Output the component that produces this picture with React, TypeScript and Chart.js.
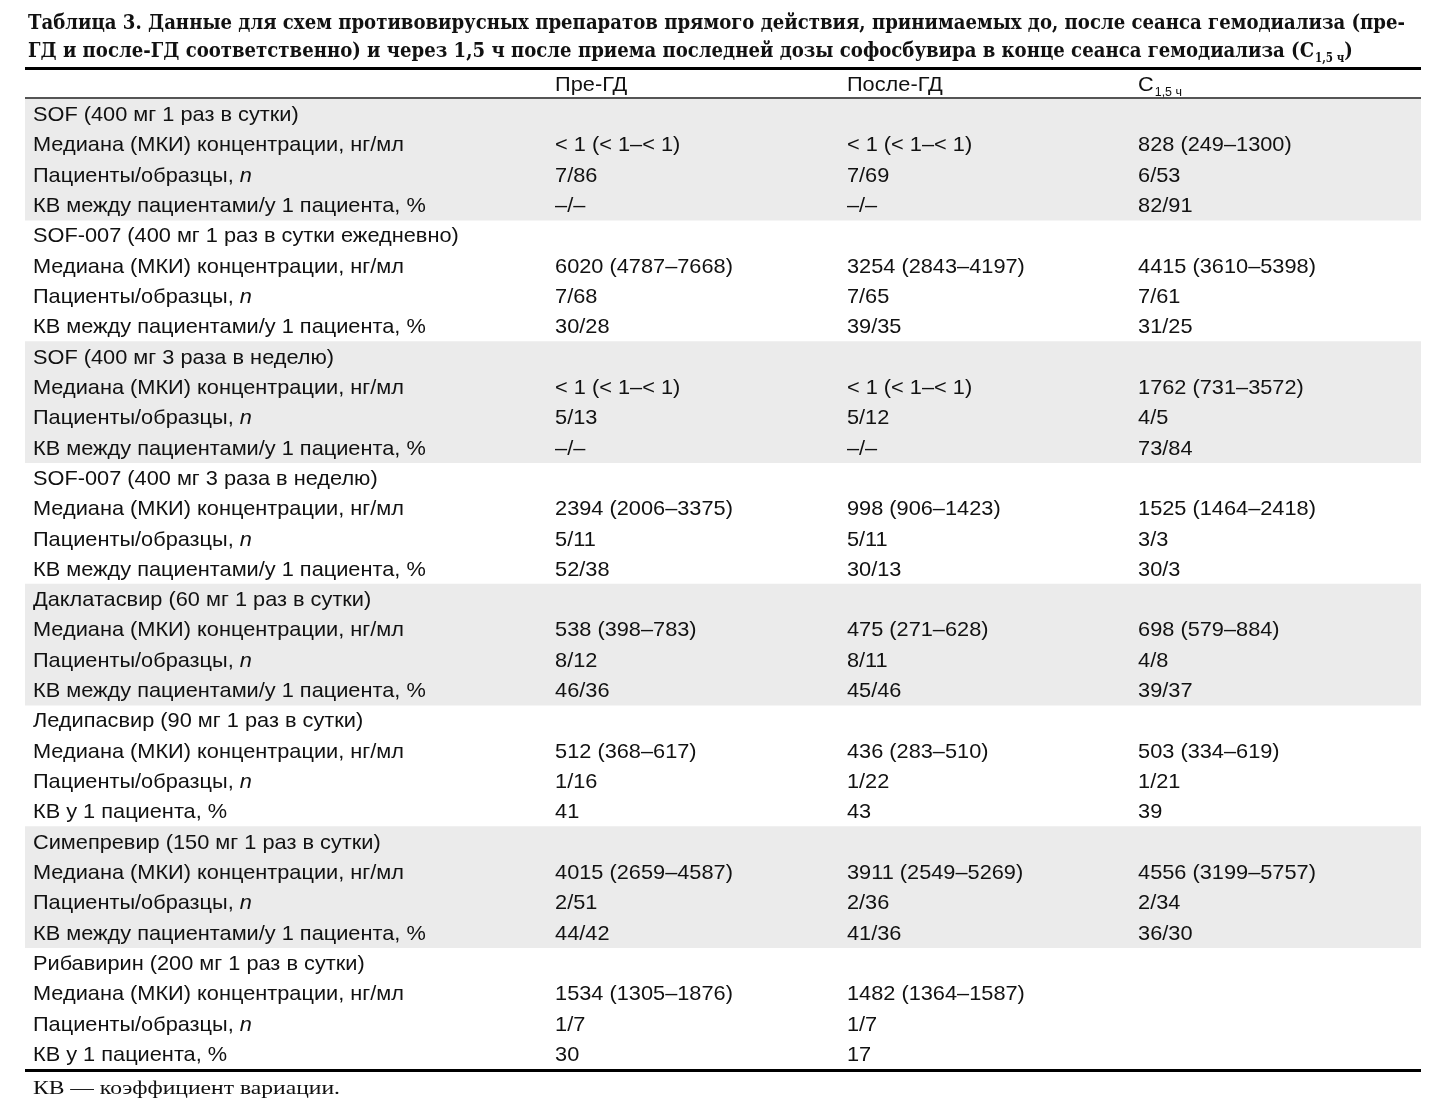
import React, { useEffect, useRef } from "react";
import { Chart, registerables } from "chart.js";

Chart.register(...registerables);

// ---------- text content ----------
const TITLE_LINE_1 =
  "Таблица 3. Данные для схем противовирусных препаратов прямого действия, принимаемых до, после сеанса гемодиализа (пре-";
const TITLE_LINE_2 =
  "ГД и после-ГД соответственно) и через 1,5 ч после приема последней дозы софосбувира в конце сеанса гемодиализа (C";
const TITLE_LINE_2_SUB = "1,5 ч";
const TITLE_LINE_2_END = ")";

const COLUMN_HEADERS = ["Пре-ГД", "После-ГД", "C"];
const COLUMN_HEADER_SUB = ["", "", "1,5 ч"];

const FOOTNOTE = "КВ — коэффициент вариации.";

// ---------- data ----------
const GROUPS = [
  "SOF (400 мг 1 раз в сутки)",
  "SOF-007 (400 мг 1 раз в сутки ежедневно)",
  "SOF (400 мг 3 раза в неделю)",
  "SOF-007 (400 мг 3 раза в неделю)",
  "Даклатасвир (60 мг 1 раз в сутки)",
  "Ледипасвир (90 мг 1 раз в сутки)",
  "Симепревир (150 мг 1 раз в сутки)",
  "Рибавирин (200 мг 1 раз в сутки)",
];

const MEDIAN_LABEL = "Медиана (МКИ) концентрации, нг/мл";
const N_LABEL = "Пациенты/образцы, ";
const N_LABEL_ITALIC = "n";
const CV_LABELS = [
  "КВ между пациентами/у 1 пациента, %",
  "КВ между пациентами/у 1 пациента, %",
  "КВ между пациентами/у 1 пациента, %",
  "КВ между пациентами/у 1 пациента, %",
  "КВ между пациентами/у 1 пациента, %",
  "КВ у 1 пациента, %",
  "КВ между пациентами/у 1 пациента, %",
  "КВ у 1 пациента, %",
];

const MEDIAN_PRE = ["< 1 (< 1–< 1)", "6020 (4787–7668)", "< 1 (< 1–< 1)", "2394 (2006–3375)", "538 (398–783)", "512 (368–617)", "4015 (2659–4587)", "1534 (1305–1876)"];
const MEDIAN_POST = ["< 1 (< 1–< 1)", "3254 (2843–4197)", "< 1 (< 1–< 1)", "998 (906–1423)", "475 (271–628)", "436 (283–510)", "3911 (2549–5269)", "1482 (1364–1587)"];
const MEDIAN_C15 = ["828 (249–1300)", "4415 (3610–5398)", "1762 (731–3572)", "1525 (1464–2418)", "698 (579–884)", "503 (334–619)", "4556 (3199–5757)", ""];

const N_PRE = ["7/86", "7/68", "5/13", "5/11", "8/12", "1/16", "2/51", "1/7"];
const N_POST = ["7/69", "7/65", "5/12", "5/11", "8/11", "1/22", "2/36", "1/7"];
const N_C15 = ["6/53", "7/61", "4/5", "3/3", "4/8", "1/21", "2/34", ""];

const CV_PRE = ["–/–", "30/28", "–/–", "52/38", "46/36", "41", "44/42", "30"];
const CV_POST = ["–/–", "39/35", "–/–", "30/13", "45/46", "43", "41/36", "17"];
const CV_C15 = ["82/91", "31/25", "73/84", "30/3", "39/37", "39", "36/30", ""];

// ---------- build table rows ----------
type Row = { label: string; italic?: string; cells: string[]; group: number };
const ROWS: Row[] = [];
GROUPS.forEach((g, gi) => {
  ROWS.push({ label: g, cells: ["", "", ""], group: gi });
  ROWS.push({ label: MEDIAN_LABEL, cells: [MEDIAN_PRE[gi], MEDIAN_POST[gi], MEDIAN_C15[gi]], group: gi });
  ROWS.push({ label: N_LABEL, italic: N_LABEL_ITALIC, cells: [N_PRE[gi], N_POST[gi], N_C15[gi]], group: gi });
  ROWS.push({ label: CV_LABELS[gi], cells: [CV_PRE[gi], CV_POST[gi], CV_C15[gi]], group: gi });
});

// ---------- layout / style ----------
const W = 1438;
const H = 1105;
const X_MIN = 0;
const X_MAX = 1;
const COL_X = [0.0057, 0.3797, 0.5888, 0.7973]; // label, pre, post, c1.5 anchors on x scale
const SHADE = "#ebebeb";
const TEXT = "#111111";
const BODY_SIZE = 21;
const BODY_FONT = `${BODY_SIZE}px "Liberation Sans", Arial, sans-serif`;
const BODY_ITALIC = `italic ${BODY_SIZE}px "Liberation Sans", Arial, sans-serif`;
const SUB_FONT = `12px "Liberation Sans", Arial, sans-serif`;
const TITLE_FONT = `bold 21px "DejaVu Serif Condensed", "DejaVu Serif", serif`;
const TITLE_SUB_FONT = `bold 12px "DejaVu Serif Condensed", "DejaVu Serif", serif`;
const FOOT_FONT = `19px "Liberation Serif", serif`;

function drawScaled(ctx: CanvasRenderingContext2D, text: string, x: number, y: number, sx: number): number {
  ctx.save();
  ctx.translate(x, y);
  ctx.scale(sx, 1);
  ctx.fillText(text, 0, 0);
  ctx.restore();
  return ctx.measureText(text).width * sx;
}

const tablePlugin = {
  id: "tableText",
  afterDatasetsDraw(chart: any) {
    const { ctx, chartArea, scales } = chart;
    const xs = scales.x;
    const ys = scales.y;
    const left = chartArea.left;
    const width = chartArea.right - chartArea.left;
    ctx.save();

    // rules
    ctx.fillStyle = "#000";
    ctx.fillRect(left, chartArea.top - 32, width, 3);
    ctx.fillStyle = "#555";
    ctx.fillRect(left, chartArea.top - 2, width, 2);
    ctx.fillStyle = "#000";
    ctx.fillRect(left, chartArea.bottom, width, 3);

    ctx.fillStyle = TEXT;
    ctx.textBaseline = "alphabetic";
    ctx.textAlign = "left";

    // title
    try {
      (ctx as any).fontStretch = "condensed";
    } catch (e) {}
    ctx.font = TITLE_FONT;
    const titleStart = 28;
    const titleSx = 1377 / ctx.measureText(TITLE_LINE_1).width;
    drawScaled(ctx, TITLE_LINE_1, titleStart, 29, titleSx);
    let tx = titleStart + drawScaled(ctx, TITLE_LINE_2, titleStart, 57, titleSx);
    ctx.font = TITLE_SUB_FONT;
    tx += drawScaled(ctx, TITLE_LINE_2_SUB, tx + 1, 62, titleSx) + 1;
    ctx.font = TITLE_FONT;
    drawScaled(ctx, TITLE_LINE_2_END, tx, 57, titleSx);
    try {
      (ctx as any).fontStretch = "normal";
    } catch (e) {}

    // body scale factor
    ctx.font = BODY_FONT;
    const bodySx = 371 / ctx.measureText(MEDIAN_LABEL).width;

    // header
    const headY = chartArea.top - 8;
    COLUMN_HEADERS.forEach((h, i) => {
      ctx.font = BODY_FONT;
      const px = xs.getPixelForValue(COL_X[i + 1]);
      const w = drawScaled(ctx, h, px, headY, bodySx);
      if (COLUMN_HEADER_SUB[i]) {
        ctx.font = SUB_FONT;
        drawScaled(ctx, COLUMN_HEADER_SUB[i], px + w + 1, headY + 5, bodySx);
      }
    });

    // rows
    ROWS.forEach((r, i) => {
      const py = ys.getPixelForValue(i) + 7;
      ctx.font = BODY_FONT;
      const lx = xs.getPixelForValue(COL_X[0]);
      const w = drawScaled(ctx, r.label, lx, py, bodySx);
      if (r.italic) {
        ctx.font = BODY_ITALIC;
        drawScaled(ctx, r.italic, lx + w, py, bodySx);
        ctx.font = BODY_FONT;
      }
      r.cells.forEach((c, ci) => {
        if (!c) return;
        drawScaled(ctx, c, xs.getPixelForValue(COL_X[ci + 1]), py, bodySx);
      });
    });

    // footnote
    ctx.font = FOOT_FONT;
    const fSx = 307 / ctx.measureText(FOOTNOTE).width;
    drawScaled(ctx, FOOTNOTE, xs.getPixelForValue(COL_X[0]), chartArea.bottom + 25, fSx);

    ctx.restore();
  },
};

export default function App() {
  const ref = useRef<HTMLCanvasElement | null>(null);
  useEffect(() => {
    document.body.style.margin = "0";
    document.body.style.background = "#ffffff";
    const canvas = ref.current;
    if (!canvas) return;
    const chart = new Chart(canvas, {
      type: "bar",
      data: {
        labels: ROWS.map((r, i) => String(i)),
        datasets: [
          {
            label: "shade",
            data: ROWS.map((r) => (r.group % 2 === 0 ? [X_MIN, X_MAX] : null)) as any,
            backgroundColor: SHADE,
            borderWidth: 0,
            borderSkipped: false,
            barPercentage: 1,
            categoryPercentage: 1,
          },
        ],
      },
      options: {
        indexAxis: "y",
        responsive: false,
        animation: false,
        devicePixelRatio: 1,
        layout: { padding: { top: 99, bottom: H - 1069, left: 25, right: W - 1421 } },
        plugins: { legend: { display: false }, tooltip: { enabled: false }, title: { display: false } },
        scales: {
          x: { type: "linear", min: X_MIN, max: X_MAX, display: false },
          y: { type: "category", display: false, offset: true },
        },
      },
      plugins: [tablePlugin],
    });
    return () => chart.destroy();
  }, []);
  return <canvas ref={ref} width={W} height={H} style={{ display: "block" }} />;
}
